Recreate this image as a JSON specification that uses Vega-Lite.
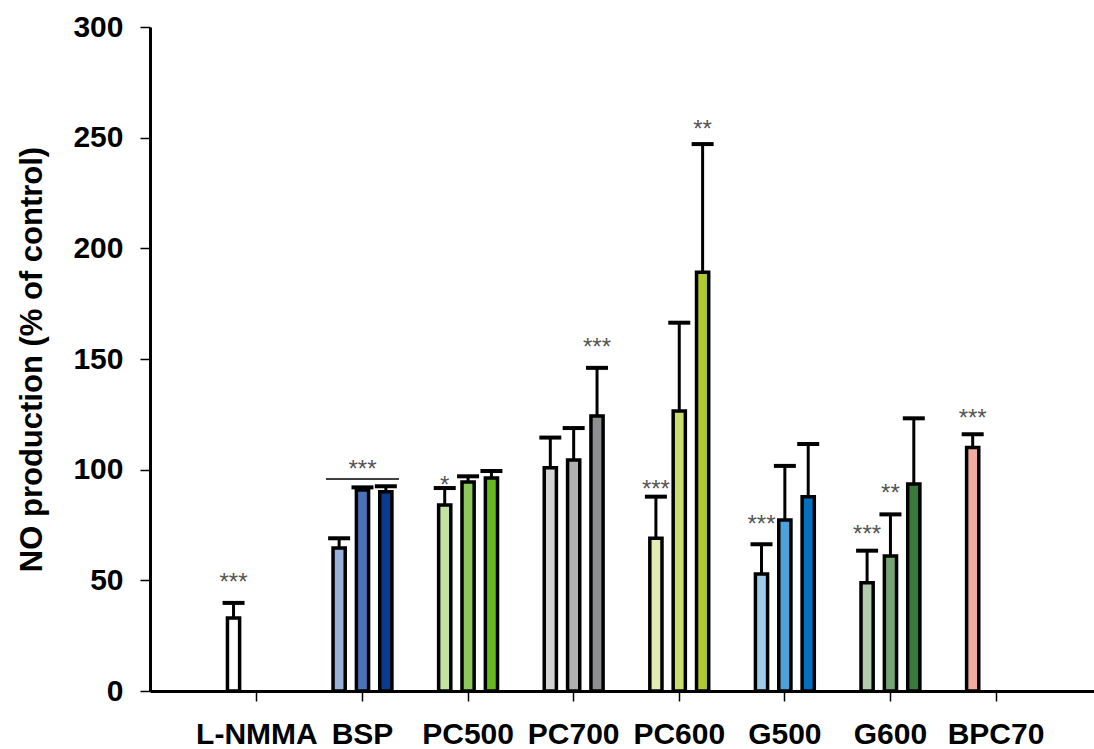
{
  "$schema": "https://vega.github.io/schema/vega-lite/v6.json",
  "autosize": {"type": "none"},
  "padding": {"left": 150, "top": 27, "right": 0, "bottom": 58},
  "width": 944,
  "height": 664,
  "background": "white",
  "config": {
    "view": {"stroke": null},
    "font": "Liberation Sans",
    "axis": {
      "grid": false,
      "domainColor": "black",
      "domainWidth": 3,
      "tickColor": "black",
      "tickWidth": 1.5,
      "tickSize": 10,
      "labelFont": "Liberation Sans",
      "labelFontSize": 30,
      "labelFontWeight": "bold",
      "labelColor": "black",
      "titleFont": "Liberation Sans",
      "titleFontSize": 31,
      "titleFontWeight": "bold",
      "titleColor": "black"
    }
  },
  "datasets": {
    "bars": [
      {"group": "L-NMMA", "slot": 0, "series": "L-NMMA", "value": 33, "upper": 39.8},
      {"group": "BSP", "slot": 0, "series": "BSP-1", "value": 64.6, "upper": 69},
      {"group": "BSP", "slot": 1, "series": "BSP-2", "value": 90.8, "upper": 92},
      {"group": "BSP", "slot": 2, "series": "BSP-3", "value": 90, "upper": 92.5},
      {"group": "PC500", "slot": 0, "series": "PC500-1", "value": 84, "upper": 91.7},
      {"group": "PC500", "slot": 1, "series": "PC500-2", "value": 94.4, "upper": 97},
      {"group": "PC500", "slot": 2, "series": "PC500-3", "value": 96.2, "upper": 99.4},
      {"group": "PC700", "slot": 0, "series": "PC700-1", "value": 100.9, "upper": 114.5},
      {"group": "PC700", "slot": 1, "series": "PC700-2", "value": 104.4, "upper": 118.8},
      {"group": "PC700", "slot": 2, "series": "PC700-3", "value": 124.2, "upper": 146},
      {"group": "PC600", "slot": 0, "series": "PC600-1", "value": 69, "upper": 87.8},
      {"group": "PC600", "slot": 1, "series": "PC600-2", "value": 126.5, "upper": 166.4},
      {"group": "PC600", "slot": 2, "series": "PC600-3", "value": 189.2, "upper": 247.1},
      {"group": "G500", "slot": 0, "series": "G500-1", "value": 52.9, "upper": 66.3},
      {"group": "G500", "slot": 1, "series": "G500-2", "value": 77.3, "upper": 101.7},
      {"group": "G500", "slot": 2, "series": "G500-3", "value": 87.8, "upper": 111.6},
      {"group": "G600", "slot": 0, "series": "G600-1", "value": 48.9, "upper": 63.4},
      {"group": "G600", "slot": 1, "series": "G600-2", "value": 61, "upper": 79.8},
      {"group": "G600", "slot": 2, "series": "G600-3", "value": 93.5, "upper": 123.2},
      {"group": "BPC70", "slot": 0, "series": "BPC70", "value": 110, "upper": 116}
    ],
    "stars": [
      {"group": "L-NMMA", "slot": 0, "label": "***", "pos": 52},
      {"group": "BSP", "slot": 1, "label": "***", "pos": 103},
      {"group": "PC500", "slot": 0, "label": "*", "pos": 95.8},
      {"group": "PC700", "slot": 2, "label": "***", "pos": 158},
      {"group": "PC600", "slot": 0, "label": "***", "pos": 94.1},
      {"group": "PC600", "slot": 2, "label": "**", "pos": 256.8},
      {"group": "G500", "slot": 0, "label": "***", "pos": 78.2},
      {"group": "G600", "slot": 0, "label": "***", "pos": 73.5},
      {"group": "G600", "slot": 1, "label": "**", "pos": 92.3},
      {"group": "BPC70", "slot": 0, "label": "***", "pos": 126.2}
    ],
    "bracket": [
      {"group": "BSP", "pos": 95.8}
    ]
  },
  "encoding": {
    "x": {
      "field": "group",
      "type": "nominal",
      "sort": ["L-NMMA", "BSP", "PC500", "PC700", "PC600", "G500", "G600", "BPC70"],
      "scale": {"paddingInner": 0, "paddingOuter": 0.47, "align": 0.545},
      "axis": {"title": null, "labelAngle": 0, "labelPadding": 18}
    }
  },
  "layer": [
    {
      "data": {"name": "bars"},
      "mark": {"type": "bar", "stroke": "black", "strokeWidth": 3.5},
      "encoding": {
        "xOffset": {"field": "slot", "type": "ordinal", "scale": {"domain": [0, 1, 2], "paddingInner": 0.479, "paddingOuter": 1.2245}},
        "y": {
          "field": "value",
          "type": "quantitative",
          "scale": {"domain": [0, 300], "nice": false},
          "axis": {"title": "NO production (% of control)", "values": [0, 50, 100, 150, 200, 250, 300], "labelPadding": 17, "titlePadding": 24}
        },
        "color": {
          "field": "series",
          "type": "nominal",
          "legend": null,
          "scale": {
            "domain": ["L-NMMA", "BSP-1", "BSP-2", "BSP-3", "PC500-1", "PC500-2", "PC500-3", "PC700-1", "PC700-2", "PC700-3", "PC600-1", "PC600-2", "PC600-3", "G500-1", "G500-2", "G500-3", "G600-1", "G600-2", "G600-3", "BPC70"],
            "range": ["#ffffff", "#98b0da", "#4a73b9", "#0c3a8e", "#c4e3a3", "#8dc95a", "#66b81f", "#d3d3d3", "#b0b0b0", "#8e8f91", "#e2ecb3", "#c9dc70", "#afcb30", "#9ecbe8", "#4ea2da", "#0070bf", "#b3ccb0", "#76a574", "#3b7a3a", "#f0aca0"]
          }
        }
      }
    },
    {
      "data": {"name": "bars"},
      "mark": {"type": "rule", "color": "black", "strokeWidth": 3, "opacity": 1},
      "encoding": {
        "xOffset": {"field": "slot", "type": "ordinal"},
        "y": {"field": "value", "type": "quantitative"},
        "y2": {"field": "upper"}
      }
    },
    {
      "data": {"name": "bars"},
      "mark": {"type": "tick", "color": "black", "thickness": 4, "size": 22, "opacity": 1},
      "encoding": {
        "xOffset": {"field": "slot", "type": "ordinal"},
        "y": {"field": "upper", "type": "quantitative"}
      }
    },
    {
      "data": {"name": "bracket"},
      "mark": {"type": "tick", "color": "black", "thickness": 1.5, "size": 73, "opacity": 1},
      "encoding": {
        "y": {"field": "pos", "type": "quantitative"}
      }
    },
    {
      "data": {"name": "stars"},
      "mark": {"type": "text", "fontSize": 24, "color": "#555555", "baseline": "alphabetic", "dy": 14, "font": "Liberation Sans"},
      "encoding": {
        "xOffset": {"field": "slot", "type": "ordinal"},
        "y": {"field": "pos", "type": "quantitative"},
        "text": {"field": "label"}
      }
    },
    {
      "mark": {"type": "rule", "color": "black", "strokeWidth": 1.5, "strokeDash": [26, 10]},
      "encoding": {"x": null, "y": {"datum": 100}}
    },
    {
      "mark": {"type": "rule", "color": "black", "strokeWidth": 3},
      "encoding": {"x": null, "y": {"datum": 300}}
    }
  ]
}
